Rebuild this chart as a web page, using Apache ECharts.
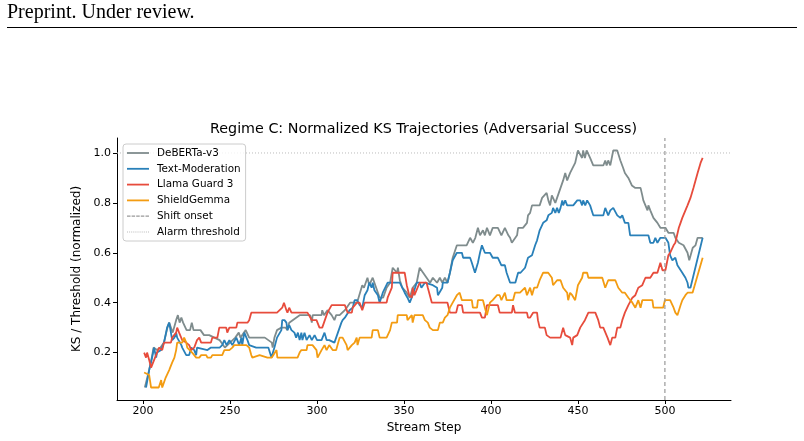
<!DOCTYPE html>
<html><head><meta charset="utf-8">
<script src="https://cdn.jsdelivr.net/npm/echarts@6/dist/echarts.min.js"></script>
<style>html,body{margin:0;padding:0;background:#fff}#c{width:804px;height:441px}</style>
</head><body><div id="c"></div>
<script>
const xTicks = [200, 250, 300, 350, 400, 450, 500];
const yTicks = [0.2, 0.4, 0.6, 0.8, 1.0];
const xRange = [185, 538];
const yRange = [0.01, 1.06];
const shiftOnset = 500;
const alarmThreshold = 1.0;
const seriesNames = ['DeBERTa-v3', 'Text-Moderation', 'Llama Guard 3', 'ShieldGemma'];

const deberta = [[201,0.06],[203.5,0.13],[205,0.18],[206,0.22],[208,0.21],[210,0.22],[212,0.24],[214,0.30],[215,0.32],[217,0.28],[219,0.33],[220,0.35],[221,0.32],[222,0.34],[223,0.32],[225,0.29],[227,0.29],[228,0.32],[229,0.29],[233,0.29],[235,0.27],[238,0.27],[244,0.25],[245,0.24],[247,0.22],[250,0.24],[253,0.26],[255,0.28],[256,0.26],[259,0.29],[261,0.26],[270,0.26],[274,0.24],[274.5,0.22],[275.5,0.26],[277,0.29],[279.5,0.30],[282,0.30],[283,0.29],[284,0.32],[290,0.35],[296,0.35],[297,0.32],[297.5,0.35],[302.6,0.35],[303,0.37],[304,0.35],[306,0.37],[308.4,0.35],[310,0.33],[311,0.35],[313,0.35],[316,0.37],[319,0.40],[323,0.40],[326,0.47],[327,0.46],[329,0.50],[330,0.47],[332,0.50],[334,0.46],[336,0.42],[338,0.42],[340,0.46],[342,0.48],[343.5,0.54],[346,0.52],[346.5,0.54],[347.6,0.49],[349,0.46],[351.6,0.44],[353.3,0.42],[355,0.46],[357.3,0.48],[359,0.54],[361,0.52],[363,0.50],[365,0.48],[366.6,0.50],[369,0.48],[370.6,0.50],[372,0.48],[373.5,0.50],[375,0.48],[376.4,0.52],[378,0.58],[380.4,0.63],[386,0.63],[388,0.66],[389.6,0.64],[391,0.66],[392.5,0.70],[393.7,0.67],[395.4,0.69],[396.5,0.67],[397.7,0.70],[399.4,0.67],[401,0.70],[404,0.70],[406,0.67],[408,0.70],[410,0.67],[411,0.66],[412,0.64],[415,0.67],[415.6,0.70],[418.4,0.70],[420.7,0.72],[421.3,0.75],[422.5,0.76],[423.6,0.79],[428,0.79],[429.4,0.82],[432,0.84],[433,0.81],[434,0.79],[435,0.83],[437,0.80],[440,0.86],[441.5,0.89],[442.7,0.92],[443.8,0.89],[445.5,0.92],[448.4,0.96],[450,1.01],[452.4,0.98],[453,1.01],[454,0.98],[455,1.01],[457,0.98],[458.8,0.95],[464.6,0.95],[465.7,0.97],[466.5,0.95],[467.4,0.97],[468.6,0.95],[470.3,1.01],[472.6,1.01],[474.4,0.97],[476,0.94],[477,0.92],[479,0.90],[481,0.87],[483,0.86],[486,0.86],[487,0.83],[487.6,0.81],[488.8,0.79],[490,0.77],[490.5,0.79],[491.6,0.77],[493.4,0.74],[495.7,0.72],[497.4,0.70],[500.3,0.70],[502,0.68],[505,0.68],[506,0.66],[508,0.64],[510.7,0.63],[513,0.60],[514,0.57],[516,0.62],[517.6,0.63],[518.8,0.66],[521.7,0.66]];

const textModeration = [[201.7,0.06],[203.5,0.13],[205.2,0.18],[206.3,0.22],[207.5,0.18],[208,0.20],[210.4,0.21],[212,0.24],[213.8,0.30],[215,0.32],[216,0.28],[216.7,0.25],[218,0.26],[219,0.28],[219.6,0.26],[222,0.23],[222.5,0.22],[224.8,0.19],[226.5,0.19],[227.7,0.22],[229.4,0.21],[230.5,0.19],[231,0.22],[237,0.21],[239,0.22],[244,0.22],[245.5,0.23],[246.7,0.25],[248,0.23],[249.6,0.25],[251.3,0.23],[253.6,0.26],[255.3,0.23],[256.5,0.26],[257,0.23],[258.2,0.28],[260,0.25],[261,0.23],[265,0.22],[272,0.22],[273.8,0.18],[275.5,0.22],[277,0.26],[279.5,0.29],[280,0.33],[281.3,0.33],[282.4,0.32],[283,0.29],[284,0.31],[285.3,0.29],[287,0.28],[288,0.26],[289,0.28],[290,0.25],[291,0.28],[291.6,0.25],[292.8,0.28],[294,0.25],[295.7,0.27],[297,0.25],[298.6,0.27],[300,0.25],[302.6,0.25],[304.3,0.28],[305.5,0.25],[307,0.25],[310,0.24],[311,0.24],[312,0.28],[314,0.32],[314.7,0.33],[316,0.34],[318.7,0.37],[320.5,0.38],[321.6,0.41],[323,0.41],[324.5,0.39],[326,0.38],[327.4,0.43],[329,0.45],[330,0.48],[331.4,0.46],[332,0.48],[333,0.45],[335,0.43],[336,0.40],[337.8,0.44],[340.6,0.48],[343.5,0.48],[347.6,0.48],[349,0.46],[350.4,0.44],[352,0.42],[353.3,0.40],[355,0.43],[357.3,0.48],[359,0.48],[360,0.46],[362,0.48],[366.6,0.47],[369,0.46],[369.5,0.43],[370.6,0.43],[372,0.46],[372.3,0.48],[375,0.48],[376.4,0.52],[378,0.57],[380.4,0.60],[383.3,0.60],[384,0.58],[388,0.58],[389,0.56],[390.8,0.52],[392.5,0.56],[393.7,0.60],[394.8,0.63],[396.5,0.60],[399.4,0.60],[401,0.58],[404,0.58],[406,0.55],[408,0.55],[409,0.52],[411,0.48],[414,0.48],[415.6,0.52],[417,0.52],[419.6,0.54],[421.3,0.58],[423.6,0.59],[425.4,0.63],[426.5,0.65],[428,0.69],[430,0.72],[432,0.73],[433,0.75],[435,0.76],[435.7,0.78],[437,0.76],[438,0.78],[439,0.76],[440,0.78],[441,0.81],[441.5,0.79],[442.7,0.81],[443.8,0.79],[447.3,0.79],[449.6,0.81],[451.3,0.81],[452.4,0.79],[453,0.81],[454.2,0.79],[455.3,0.81],[457,0.79],[458.8,0.75],[464.6,0.75],[465.7,0.78],[467.4,0.75],[468.6,0.77],[470.3,0.78],[472.6,0.75],[474.4,0.74],[475.5,0.75],[477,0.72],[479,0.72],[480,0.67],[490.5,0.67],[491.6,0.64],[493.4,0.64],[494.5,0.66],[495.7,0.64],[497.4,0.66],[500.3,0.66],[502,0.64],[503,0.59],[504.3,0.57],[506,0.58],[507.2,0.55],[510,0.52],[511.8,0.50],[513,0.48],[513.5,0.46],[514.7,0.46],[521.7,0.66]];

const llamaGuard = [[200.6,0.20],[201.7,0.18],[202.3,0.20],[203.5,0.17],[204.6,0.14],[205.2,0.14],[206.3,0.17],[208,0.20],[209.2,0.22],[211,0.21],[212,0.24],[216,0.24],[216.7,0.26],[219,0.28],[219.6,0.30],[220.7,0.28],[222.5,0.25],[224.8,0.24],[226.5,0.23],[227.7,0.21],[229.4,0.22],[231,0.25],[232.3,0.26],[233.4,0.24],[239,0.24],[239.8,0.26],[242.7,0.26],[243.8,0.30],[247.8,0.30],[248.4,0.28],[249.6,0.30],[253.6,0.30],[254.2,0.32],[260,0.32],[261,0.33],[262.2,0.36],[277,0.36],[280,0.38],[281,0.40],[282.4,0.37],[283,0.36],[284,0.38],[285.3,0.36],[294.5,0.36],[297,0.33],[299.7,0.33],[301.4,0.30],[303,0.30],[304,0.32],[306,0.36],[308.4,0.39],[316,0.39],[317.6,0.36],[320,0.36],[320.5,0.38],[323,0.40],[324.5,0.40],[326,0.37],[327.4,0.40],[340,0.40],[340.6,0.42],[343,0.46],[343.5,0.52],[346,0.52],[350.4,0.52],[351.6,0.47],[353,0.43],[354.5,0.42],[355,0.46],[356,0.43],[359,0.48],[363,0.48],[363.7,0.46],[366,0.40],[375,0.40],[376.4,0.36],[380,0.36],[381,0.39],[383.3,0.39],[384,0.36],[393.7,0.36],[394.8,0.34],[396.5,0.34],[397.7,0.39],[404,0.39],[405,0.36],[412,0.36],[412.7,0.39],[413.8,0.36],[420.7,0.36],[421.3,0.34],[422.5,0.34],[424.2,0.36],[426.5,0.36],[427,0.33],[428,0.30],[431,0.30],[432,0.27],[434,0.26],[440,0.26],[441.5,0.30],[442.7,0.27],[445.5,0.26],[446.7,0.23],[447.3,0.26],[449.6,0.27],[451.3,0.30],[454,0.33],[456,0.36],[460,0.36],[461.7,0.33],[462.8,0.30],[464.6,0.30],[467,0.26],[468.6,0.23],[469.7,0.26],[471.5,0.26],[472.6,0.30],[474.4,0.30],[475.5,0.33],[477,0.36],[479,0.39],[481.3,0.42],[483,0.43],[484.7,0.46],[487,0.47],[488.8,0.50],[491.6,0.50],[493.4,0.52],[495.7,0.52],[497.4,0.56],[498.6,0.53],[500.3,0.53],[502,0.59],[503,0.60],[505,0.63],[506,0.64],[507,0.67],[508,0.70],[509,0.72],[510,0.74],[511.8,0.77],[513,0.79],[514.7,0.82],[516.4,0.86],[517.6,0.89],[518.8,0.92],[520.5,0.96],[521.7,0.98]];

const shieldGemma = [[200.6,0.12],[201.7,0.12],[203.5,0.11],[204.6,0.06],[209,0.06],[210.4,0.09],[211,0.06],[213,0.10],[215,0.13],[216.7,0.16],[218,0.18],[219,0.21],[219.6,0.24],[222.5,0.24],[223.6,0.26],[224.8,0.24],[225.4,0.22],[226.5,0.22],[228.2,0.20],[229.4,0.19],[230.5,0.18],[232.3,0.18],[233.4,0.19],[236.3,0.19],[237,0.18],[239,0.18],[239.8,0.19],[245.5,0.19],[246.7,0.21],[249.6,0.21],[251.3,0.22],[252.4,0.23],[259.4,0.23],[261,0.22],[262.2,0.19],[262.8,0.18],[267,0.19],[271.5,0.18],[274,0.18],[276.7,0.21],[277.2,0.18],[288.8,0.18],[290,0.20],[291,0.21],[294,0.21],[294.5,0.23],[297.4,0.23],[299.7,0.21],[300.3,0.18],[302.6,0.21],[304.3,0.23],[305.5,0.21],[307,0.23],[309,0.21],[311,0.21],[311.8,0.23],[313,0.26],[314.7,0.26],[317,0.23],[317.6,0.21],[320,0.23],[321.6,0.24],[322.8,0.26],[323.3,0.23],[324.5,0.26],[331.4,0.26],[332,0.29],[335,0.29],[336,0.26],[340,0.26],[342,0.29],[343,0.32],[346,0.32],[346.4,0.35],[351.6,0.35],[352,0.33],[354.5,0.35],[355,0.32],[356,0.35],[360.8,0.35],[362,0.33],[363.7,0.32],[364.8,0.30],[366.6,0.29],[369.5,0.29],[370.6,0.32],[372.3,0.32],[373.5,0.34],[375,0.35],[376.4,0.38],[378,0.40],[380.4,0.43],[382,0.44],[383.3,0.41],[389,0.41],[389.6,0.38],[392,0.38],[392.5,0.41],[395.4,0.41],[396.5,0.38],[397.7,0.35],[399.4,0.40],[401,0.41],[403.5,0.43],[405,0.43],[406,0.41],[408,0.44],[409,0.41],[412.7,0.41],[413.8,0.44],[416.7,0.44],[419.6,0.46],[420.7,0.43],[422.5,0.46],[423.6,0.43],[424.8,0.46],[426.5,0.46],[428,0.49],[430,0.52],[432.9,0.52],[435,0.50],[435.7,0.47],[438,0.49],[440,0.49],[441.5,0.46],[443.8,0.44],[444.4,0.41],[445.5,0.44],[446.7,0.43],[448.4,0.41],[450,0.47],[452.4,0.50],[453,0.52],[455.3,0.52],[456,0.50],[464,0.50],[465.7,0.46],[467.4,0.49],[471.5,0.49],[473.2,0.46],[475.5,0.44],[477,0.44],[479,0.42],[481.3,0.40],[483,0.38],[484.7,0.41],[486,0.38],[487,0.41],[492.8,0.41],[493.4,0.38],[499,0.38],[500,0.41],[503,0.41],[505,0.38],[506,0.36],[507.2,0.35],[509,0.39],[510,0.41],[511.8,0.43],[513,0.44],[515.9,0.44],[521.7,0.58]];

const colors = ['#7f8c8d', '#2980b9', '#e74c3c', '#f39c12'];
const font = 'DejaVu Sans';

// legend glyph paths (22 x line thickness)
const solidIcon = 'path://M0,0L22,0L22,1.8L0,1.8Z';
const dashedIcon = 'path://M0,0h3.5v1.2h-3.5Z M4.6,0h3.5v1.2h-3.5Z M9.2,0h3.5v1.2h-3.5Z M13.8,0h3.5v1.2h-3.5Z M18.5,0h3.5v1.2h-3.5Z';
const dottedIcon = 'path://M0,0h1v1h-1Z M2.1,0h1v1h-1Z M4.2,0h1v1h-1Z M6.3,0h1v1h-1Z M8.4,0h1v1h-1Z M10.5,0h1v1h-1Z M12.6,0h1v1h-1Z M14.7,0h1v1h-1Z M16.8,0h1v1h-1Z M18.9,0h1v1h-1Z M21,0h1v1h-1Z';

const chart = echarts.init(document.getElementById('c'), null, {renderer: 'canvas'});
const dataSets = [deberta, textModeration, llamaGuard, shieldGemma];
const series = dataSets.map((d, i) => ({
  name: seriesNames[i], type: 'line', data: d, symbol: 'none', showSymbol: false,
  lineStyle: {color: colors[i], width: 1.8}, itemStyle: {color: colors[i]},
  z: 2 + i, animation: false
}));
series.push({
  name: 'Shift onset', type: 'line', symbol: 'none', animation: false, z: 8,
  data: [[shiftOnset, yRange[0]], [shiftOnset, yRange[1]]],
  lineStyle: {color: '#999999', width: 1.2, type: [4, 3]}, itemStyle: {color: '#999999'}
});
series.push({
  name: 'Alarm threshold', type: 'line', symbol: 'none', animation: false, z: 1,
  data: [[xRange[0], alarmThreshold], [xRange[1], alarmThreshold]],
  lineStyle: {color: '#bbbbbb', width: 1, type: [1, 2]}, itemStyle: {color: '#bbbbbb'}
});

const legendData = seriesNames.map(n => ({name: n, icon: solidIcon}))
  .concat([{name: 'Shift onset', icon: dashedIcon}, {name: 'Alarm threshold', icon: dottedIcon}]);

chart.setOption({
  backgroundColor: '#fff',
  animation: false,
  title: {
    text: 'Regime C: Normalized KS Trajectories (Adversarial Success)',
    left: 418.5, top: 117, textAlign: 'center',
    textStyle: {fontFamily: font, fontSize: 14.3, fontWeight: 'normal', color: '#000'}
  },
  graphic: [
    {type: 'text', left: 7, top: 3, style: {text: 'Preprint. Under review.', font: '20px "Liberation Serif"', fill: '#000'}},
    {type: 'line', shape: {x1: 7, y1: 27.5, x2: 797, y2: 27.5}, style: {stroke: '#000', lineWidth: 1}}
  ],
  legend: {
    orient: 'vertical', left: 123, top: 144,
    data: legendData,
    itemWidth: 22, itemHeight: 10, itemGap: 5.8,
    symbolKeepAspect: true,
    padding: [4, 5, 4, 4],
    backgroundColor: 'rgba(255,255,255,0.8)', borderColor: '#cccccc', borderWidth: 1, borderRadius: 3,
    textStyle: {fontFamily: font, fontSize: 10.4, color: '#000', padding: [0, 0, 0, 3]}
  },
  grid: {left: 117, right: 73, top: 138, bottom: 41, containLabel: false},
  xAxis: {
    type: 'value', min: xRange[0], max: xRange[1],
    name: 'Stream Step', nameLocation: 'middle', nameGap: 20,
    nameTextStyle: {fontFamily: font, fontSize: 12, color: '#000'},
    axisLine: {show: true, lineStyle: {color: '#000', width: 1}},
    axisTick: {show: true, length: 4, lineStyle: {color: '#000'}, customValues: xTicks},
    axisLabel: {fontFamily: font, fontSize: 11, color: '#000', margin: 6, customValues: xTicks, formatter: v => String(v)},
    splitLine: {show: false}
  },
  yAxis: {
    type: 'value', min: yRange[0], max: yRange[1],
    name: 'KS / Threshold (normalized)', nameLocation: 'middle', nameGap: 27,
    nameTextStyle: {fontFamily: font, fontSize: 12, color: '#000'},
    axisLine: {show: true, lineStyle: {color: '#000', width: 1}},
    axisTick: {show: true, length: 4, lineStyle: {color: '#000'}, customValues: yTicks},
    axisLabel: {fontFamily: font, fontSize: 11, color: '#000', margin: 6, customValues: yTicks, formatter: v => v.toFixed(1)},
    splitLine: {show: false}
  },
  series: series
});
</script>
</body></html>
